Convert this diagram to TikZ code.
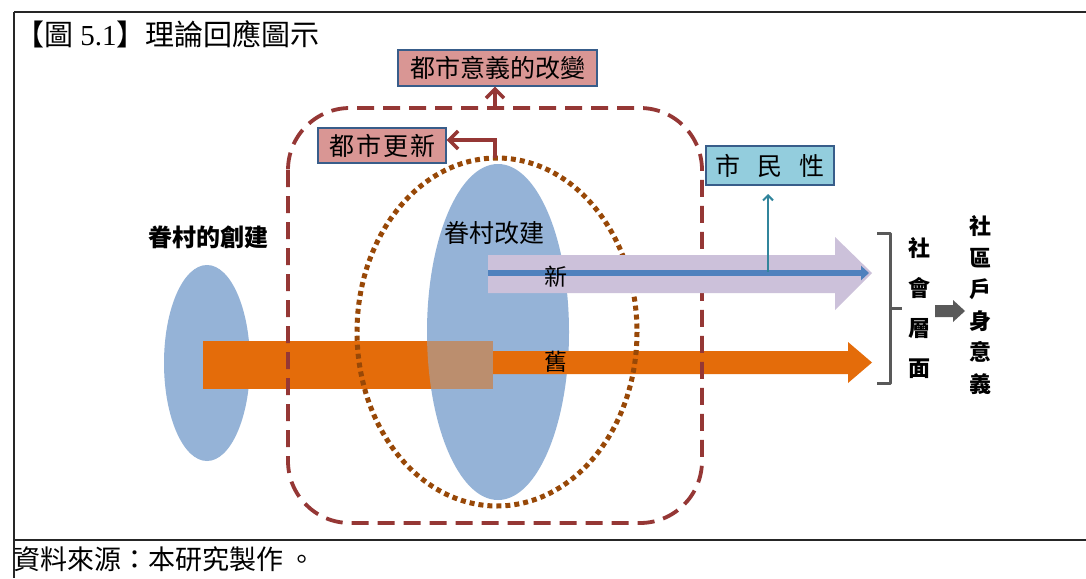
\documentclass[tikz,border=0pt]{standalone}
\usepackage{fontspec}
\setmainfont{Liberation Serif}
\newfontfamily\cjk{Noto Sans CJK TC}
\usetikzlibrary{arrows.meta}
\definecolor{ellblue}{HTML}{95B3D7}
\definecolor{orng}{HTML}{E46C0A}
\definecolor{mixbr}{HTML}{BB8E6E}
\definecolor{dashred}{HTML}{953735}
\definecolor{dotbr}{HTML}{984807}
\definecolor{lav}{HTML}{CCC1DA}
\definecolor{lineblue}{HTML}{4F81BD}
\definecolor{teal}{HTML}{31859C}
\definecolor{pinkbox}{HTML}{D99694}
\definecolor{cyanbox}{HTML}{93CDDD}
\definecolor{boxedge}{HTML}{385D8A}
\definecolor{grayc}{HTML}{595959}
\tikzset{
  lbox/.style={draw=boxedge, line width=1.2pt, inner sep=0pt, font=\cjk\fontsize{25}{27}\selectfont},
  lbl/.style={inner sep=0pt, font=\cjk\fontsize{25}{27}\selectfont},
  blbl/.style={inner sep=0pt, font=\cjk\bfseries\fontsize{24}{26}\selectfont},
  redarr/.style={draw=dashred, line width=3.5pt, -{Straight Barb[length=9pt,width=18pt]}},
}
\begin{document}
\begin{tikzpicture}[x=1pt,y=-1pt]
\useasboundingbox (0,0) rectangle (1086,578);
\fill[white] (0,0) rectangle (1086,578);
% frame
\draw[black!85, line width=1.6pt] (14,12) -- (1086,12);
\draw[black!85, line width=1.6pt] (14,540) -- (1086,540);
\draw[black!85, line width=1.6pt] (14,12) -- (14,578);
\node[anchor=west, inner sep=0pt, font=\fontsize{29}{31}\selectfont] (title) at (15,34) {{\cjk 【圖} 5.1{\cjk 】理論回應圖示}};
\node[anchor=west, inner sep=0pt, font=\cjk\fontsize{27}{29}\selectfont] (src) at (13,559) {資料來源：本研究製作\hspace{0.2em}。};
% ellipses
\fill[ellblue] (207,363) ellipse [x radius=43, y radius=98];
\fill[ellblue] (498,332) ellipse [x radius=71, y radius=168];
\node[inner sep=0pt] (ellL) at (207,363) {};
\node[inner sep=0pt] (ellB) at (498,332) {};
% orange
\fill[orng] (203,341) rectangle (493,389);
\begin{scope}
\clip (498,332) ellipse [x radius=71, y radius=168];
\fill[mixbr] (203,341) rectangle (493,389);
\end{scope}
\fill[orng] (493,351) -- (848,351) -- (848,342) -- (872,362.5) -- (848,383) -- (848,374) -- (493,374) -- cycle;
% dashed rounded rect
\draw[dashred, line width=3.8pt, dash pattern=on 17pt off 9pt, rounded corners=62pt] (288,108) rectangle (702,523);
\coordinate (dtop) at (495,108);
% dotted ellipse
\draw[dotbr, line width=5pt, dash pattern=on 5pt off 4pt] (497,332) ellipse [x radius=140, y radius=174];
\coordinate (otop) at (495,158);
% lavender arrow
\fill[lav] (488,255) -- (835,255) -- (835,237) -- (872,273) -- (835,310) -- (835,293) -- (488,293) -- cycle;
\coordinate (bstart) at (488,273);
\coordinate (bend) at (869,273);
\draw[lineblue, line width=6pt, -{Triangle[length=8pt,width=14pt]}] (bstart) -- (bend);
% teal arrow
\coordinate (tbase) at (768,272);
\draw[teal, line width=2pt, -{Straight Barb[length=5pt,width=10pt]}] (tbase) -- (768,194);
% labels
\node[blbl] (l1) at (208,237) {眷村的創建};
\node[lbl] (l2) at (494,233) {眷村改建};
\node[lbl, font=\cjk\fontsize{23}{25}\selectfont] (xin) at (556,277) {新};
\node[lbl, font=\cjk\fontsize{23}{25}\selectfont] (jiu) at (556,362) {舊};
% boxes
\node[lbox, fill=pinkbox, minimum width=199pt, minimum height=36pt] (b1) at (497.5,68) {都市意義的改變};
\node[lbox, fill=pinkbox, minimum width=128pt, minimum height=35pt] (b2) at (382,145.5) {都\hspace{0.08em}市\hspace{0.08em}更\hspace{0.08em}新};
\node[lbox, fill=cyanbox, minimum width=128pt, minimum height=39pt] (b3) at (770,165.5) {市\hspace{0.7em}民\hspace{0.7em}性};
\draw[redarr] (dtop) -- (b1.south -| dtop);
\draw[redarr] (otop) -- (495,140) -- (b2.east |- 0,140);
% bracket
\draw[grayc, line width=3pt, line join=round] (877,233) -- (890,233) -- (890,383) -- (877,383);
\draw[grayc, line width=3pt] (890,308) -- (902,308);
\node[blbl, align=center, font=\cjk\bfseries\fontsize{22}{40}\selectfont] (soc) at (919,308) {社\\會\\層\\面};
\fill[grayc] (935,305) -- (953,305) -- (953,300) -- (965,311) -- (953,322) -- (953,317) -- (935,317) -- cycle;
\node[blbl, align=center, font=\cjk\bfseries\fontsize{22}{31.5}\selectfont] (comm) at (980,305) {社\\區\\戶\\身\\意\\義};
\end{tikzpicture}
\end{document}
